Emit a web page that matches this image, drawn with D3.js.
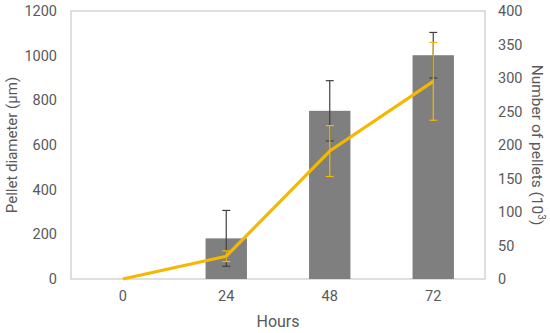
<!DOCTYPE html>
<html>
<head>
<meta charset="utf-8">
<script src="https://cdn.jsdelivr.net/npm/d3@7"></script>
<style>
  body { margin: 0; background: #fff; }
  text { font-family: Roboto, "Noto Sans", sans-serif; fill: #595959; }
</style>
</head>
<body>
<div id="chart"></div>
<script>
const hours = ["0", "24", "48", "72"];
const diameter = [0, 182, 753, 1002];
const diameterErr = [0, 125, 135, 102];
const pellets = [0, 34, 191, 295];
const pelletsErr = [0, 8, 38, 58];
const leftTicks = [0, 200, 400, 600, 800, 1000, 1200];
const rightTicks = [0, 50, 100, 150, 200, 250, 300, 350, 400];

const width = 550, height = 333;
const margin = { top: 11, right: 65, bottom: 54, left: 71 };
const innerW = width - margin.left - margin.right;
const innerH = height - margin.top - margin.bottom;

const svg = d3.select("#chart")
    .append("svg")
    .attr("width", width)
    .attr("height", height);

const g = svg.append("g")
    .attr("transform", `translate(${margin.left},${margin.top})`);

const x = d3.scaleBand()
    .domain(hours)
    .range([0, innerW])
    .paddingInner(0.6)
    .paddingOuter(0.3);

const yLeft = d3.scaleLinear().domain([0, 1200]).range([innerH, 0]);
const yRight = d3.scaleLinear().domain([0, 400]).range([innerH, 0]);

// plot frame
g.append("rect")
    .attr("width", innerW)
    .attr("height", innerH)
    .attr("fill", "none")
    .attr("stroke", "#bfbfbf")
    .attr("stroke-width", 1);

// bars
g.selectAll("rect.bar")
    .data(hours)
    .join("rect")
    .attr("class", "bar")
    .attr("x", d => x(d))
    .attr("width", x.bandwidth())
    .attr("y", (d, i) => yLeft(diameter[i]))
    .attr("height", (d, i) => innerH - yLeft(diameter[i]))
    .attr("fill", "#7f7f7f");

function errorBars(cls, vals, errs, scale, color) {
    const eb = g.selectAll("g." + cls)
        .data(hours.map((h, i) => ({ h, v: vals[i], e: errs[i] })).filter(d => d.e > 0))
        .join("g")
        .attr("class", cls)
        .attr("stroke", color)
        .attr("stroke-width", 1.2);
    const cx = d => x(d.h) + x.bandwidth() / 2;
    eb.append("line")
        .attr("x1", cx).attr("x2", cx)
        .attr("y1", d => scale(d.v - d.e))
        .attr("y2", d => scale(d.v + d.e));
    [-1, 1].forEach(s => {
        eb.append("line")
            .attr("x1", d => cx(d) - 4).attr("x2", d => cx(d) + 4)
            .attr("y1", d => scale(d.v + s * d.e))
            .attr("y2", d => scale(d.v + s * d.e));
    });
}

errorBars("err-bar", diameter, diameterErr, yLeft, "#404040");

// line
const line = d3.line()
    .x((d, i) => x(hours[i]) + x.bandwidth() / 2)
    .y(d => yRight(d));

g.append("path")
    .datum(pellets)
    .attr("fill", "none")
    .attr("stroke", "#f5b800")
    .attr("stroke-width", 3.2)
    .attr("stroke-linejoin", "round")
    .attr("d", line);

errorBars("err-line", pellets, pelletsErr, yRight, "#f5b800");

// axes
const axL = g.append("g")
    .call(d3.axisLeft(yLeft).tickValues(leftTicks).tickFormat(d3.format("d")).tickSize(0).tickPadding(14));
const axR = g.append("g")
    .attr("transform", `translate(${innerW},0)`)
    .call(d3.axisRight(yRight).tickValues(rightTicks).tickFormat(d3.format("d")).tickSize(0).tickPadding(13));
const axB = g.append("g")
    .attr("transform", `translate(0,${innerH})`)
    .call(d3.axisBottom(x).tickSize(0).tickPadding(12));

[axL, axR, axB].forEach(a => {
    a.select(".domain").remove();
    a.selectAll("text")
        .attr("font-size", 14.5)
        .attr("font-family", "Roboto, sans-serif")
        .attr("fill", "#595959");
});

// titles
svg.append("text")
    .attr("transform", `translate(17,${margin.top + innerH / 2}) rotate(-90)`)
    .attr("text-anchor", "middle")
    .attr("font-size", 15)
    .text("Pellet diameter (µm)");

const rt = svg.append("text")
    .attr("transform", `translate(532,${margin.top + innerH / 2}) rotate(90)`)
    .attr("text-anchor", "middle")
    .attr("font-size", 15.5);
rt.append("tspan").text("Number of pellets (10");
rt.append("tspan").attr("font-size", 10).attr("dy", -6).text("3");
rt.append("tspan").attr("dy", 6).text(")");

svg.append("text")
    .attr("x", margin.left + innerW / 2)
    .attr("y", 327)
    .attr("text-anchor", "middle")
    .attr("font-size", 16)
    .text("Hours");
</script>
</body>
</html>
